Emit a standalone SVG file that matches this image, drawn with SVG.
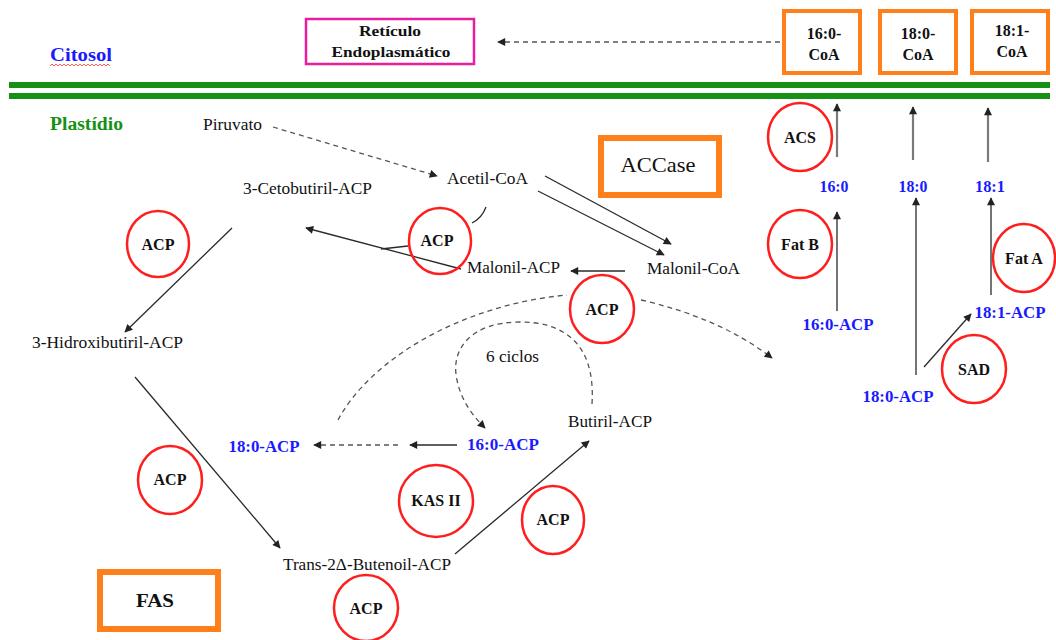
<svg xmlns="http://www.w3.org/2000/svg" width="1056" height="640" viewBox="0 0 1056 640">
<style>
text{font-family:"Liberation Serif","DejaVu Serif","Times New Roman",serif}
.reg{font-size:17px;fill:#111}
.bold{font-weight:bold;font-size:16px;fill:#111}
.blue{font-weight:bold;font-size:17px;fill:#1a1aff}
.enz{fill:#fff;stroke:#ff1e1e;stroke-width:2.5}
.obox{fill:#fff;stroke:#ff7f1a;stroke-width:4}
.obox2{fill:#fff;stroke:#ff7f1a;stroke-width:6}
.sol{fill:none;stroke:#2a2a2a;stroke-width:1.3}
.gray{fill:none;stroke:#7a7a7a;stroke-width:2.2}
.dash{fill:none;stroke:#555;stroke-width:1.3;stroke-dasharray:5 4}
</style>
<defs>
<marker id="ah" viewBox="0 0 10 10" refX="9" refY="5" markerWidth="10" markerHeight="8" orient="auto" markerUnits="userSpaceOnUse">
<path d="M0,0 L10,5 L0,10 z" fill="#222"/>
</marker>
</defs>
<rect width="1056" height="640" fill="#fff"/>

<g id="membrane">
<rect x="9" y="82" width="1041" height="6" fill="#169116"/>
<rect x="9" y="93" width="1041" height="6" fill="#169116"/>
</g>

<g id="compartments">
<text x="50" y="61" class="bold" style="font-size:18px;fill:#1a1aff" textLength="62" lengthAdjust="spacingAndGlyphs">Citosol</text>
<path d="M50,66 l2,-2 l2,2 l2,-2 l2,2 l2,-2 l2,2 l2,-2 l2,2 l2,-2 l2,2 l2,-2 l2,2 l2,-2 l2,2 l2,-2 l2,2 l2,-2 l2,2 l2,-2 l2,2 l2,-2 l2,2 l2,-2 l2,2 l2,-2 l2,2 l2,-2 l2,2 l2,-2 l2,2" fill="none" stroke="#ff3030" stroke-width="0.8"/>
<text x="50" y="130" class="bold" style="font-size:18px;fill:#169116" textLength="73" lengthAdjust="spacingAndGlyphs">Plastídio</text>
</g>

<g id="connectors">
<line x1="780" y1="42" x2="498" y2="42" class="dash" marker-end="url(#ah)"/>
<line x1="273" y1="127" x2="437" y2="176" class="dash" marker-end="url(#ah)"/>
<line x1="545" y1="176" x2="671" y2="244" class="sol" marker-end="url(#ah)"/>
<line x1="538" y1="191" x2="664" y2="255" class="sol" marker-end="url(#ah)"/>
<line x1="625" y1="271" x2="571" y2="271" class="sol" marker-end="url(#ah)"/>
<line x1="461" y1="269" x2="306" y2="228" class="sol" marker-end="url(#ah)"/>
<line x1="408" y1="246" x2="381" y2="249" class="sol"/>
<path d="M486,207 Q482,218 472,223" class="sol"/>
<line x1="232" y1="228" x2="125" y2="332" class="sol" marker-end="url(#ah)"/>
<line x1="135" y1="377" x2="280" y2="548" class="sol" marker-end="url(#ah)"/>
<line x1="455" y1="554" x2="589" y2="441" class="sol" marker-end="url(#ah)"/>
<line x1="457" y1="445" x2="410" y2="445" class="sol" marker-end="url(#ah)"/>
<line x1="398" y1="445" x2="314" y2="445" class="dash" marker-end="url(#ah)"/>
<path d="M338,420 C370,360 460,305 567,295" class="dash"/>
<path d="M641,300 Q720,318 772,358" class="dash" marker-end="url(#ah)"/>
<path d="M592,404 C596,340 560,322 520,322 C470,322 450,350 457,380 C461,400 472,415 485,428" class="dash" marker-end="url(#ah)"/>
<line x1="837" y1="311" x2="837" y2="212" class="sol" marker-end="url(#ah)"/>
<line x1="837" y1="157" x2="837" y2="104" class="gray" marker-end="url(#ah)"/>
<line x1="916" y1="375" x2="916" y2="198" class="sol" marker-end="url(#ah)"/>
<line x1="913" y1="160" x2="913" y2="107" class="gray" marker-end="url(#ah)"/>
<line x1="991" y1="295" x2="991" y2="198" class="sol" marker-end="url(#ah)"/>
<line x1="988" y1="162" x2="988" y2="108" class="gray" marker-end="url(#ah)"/>
<line x1="924" y1="367" x2="971" y2="314" class="sol" marker-end="url(#ah)"/>
</g>

<g id="re">
<rect x="306" y="19" width="168" height="45" fill="#fff" stroke="#e81ea0" stroke-width="2.5"/>
<text x="390" y="36" class="bold" style="font-size:15px" text-anchor="middle" textLength="62" lengthAdjust="spacingAndGlyphs">Retículo</text>
<text x="391" y="57" class="bold" style="font-size:15px" text-anchor="middle" textLength="119" lengthAdjust="spacingAndGlyphs">Endoplasmático</text>
</g>

<g id="coa160">
<rect x="784" y="11" width="76" height="62" class="obox"/>
<text x="824" y="39" class="bold" text-anchor="middle">16:0-</text>
<text x="824" y="60" class="bold" text-anchor="middle">CoA</text>
</g>
<g id="coa180">
<rect x="880" y="11" width="76" height="62" class="obox"/>
<text x="918" y="39" class="bold" text-anchor="middle">18:0-</text>
<text x="918" y="60" class="bold" text-anchor="middle">CoA</text>
</g>
<g id="coa181">
<rect x="972" y="11" width="76" height="62" class="obox"/>
<text x="1012" y="36" class="bold" text-anchor="middle">18:1-</text>
<text x="1012" y="57" class="bold" text-anchor="middle">CoA</text>
</g>

<g id="accase">
<rect x="601" y="138" width="118" height="57" class="obox2"/>
<text x="658" y="172" class="reg" style="font-size:21px" text-anchor="middle" textLength="75" lengthAdjust="spacingAndGlyphs">ACCase</text>
</g>
<g id="fas">
<rect x="100" y="572" width="118" height="57" class="obox2"/>
<text x="155" y="607" class="bold" style="font-size:19px" text-anchor="middle" textLength="38" lengthAdjust="spacingAndGlyphs">FAS</text>
</g>

<g id="piruvato"><text x="203" y="130" class="reg" textLength="59" lengthAdjust="spacingAndGlyphs">Piruvato</text></g>
<g id="acetilcoa"><text x="447" y="184" class="reg" textLength="81" lengthAdjust="spacingAndGlyphs">Acetil-CoA</text></g>
<g id="cetobutiril"><text x="243" y="194" class="reg" textLength="129" lengthAdjust="spacingAndGlyphs">3-Cetobutiril-ACP</text></g>
<g id="malonilacp"><text x="467" y="273" class="reg" textLength="93" lengthAdjust="spacingAndGlyphs">Malonil-ACP</text></g>
<g id="malonilcoa"><text x="647" y="274" class="reg" textLength="93" lengthAdjust="spacingAndGlyphs">Malonil-CoA</text></g>
<g id="hidroxibutiril"><text x="32" y="348" class="reg" textLength="151" lengthAdjust="spacingAndGlyphs">3-Hidroxibutiril-ACP</text></g>
<g id="ciclos"><text x="486" y="362" class="reg" textLength="53" lengthAdjust="spacingAndGlyphs">6 ciclos</text></g>
<g id="butiril"><text x="568" y="427" class="reg" textLength="84" lengthAdjust="spacingAndGlyphs">Butiril-ACP</text></g>
<g id="butenoil"><text x="283" y="570" class="reg" textLength="168" lengthAdjust="spacingAndGlyphs">Trans-2Δ-Butenoil-ACP</text></g>

<g id="acp180left"><text x="264" y="452" class="blue" text-anchor="middle" textLength="71" lengthAdjust="spacingAndGlyphs">18:0-ACP</text></g>
<g id="acp160mid"><text x="503" y="450" class="blue" text-anchor="middle" textLength="72" lengthAdjust="spacingAndGlyphs">16:0-ACP</text></g>
<g id="fa160"><text x="834" y="192" class="blue" text-anchor="middle" textLength="29" lengthAdjust="spacingAndGlyphs">16:0</text></g>
<g id="fa180"><text x="913" y="192" class="blue" text-anchor="middle" textLength="29" lengthAdjust="spacingAndGlyphs">18:0</text></g>
<g id="fa181"><text x="990" y="192" class="blue" text-anchor="middle" textLength="30" lengthAdjust="spacingAndGlyphs">18:1</text></g>
<g id="acp160right"><text x="838" y="330" class="blue" text-anchor="middle" textLength="71" lengthAdjust="spacingAndGlyphs">16:0-ACP</text></g>
<g id="acp181right"><text x="1010" y="318" class="blue" text-anchor="middle" textLength="71" lengthAdjust="spacingAndGlyphs">18:1-ACP</text></g>
<g id="acp180right"><text x="898" y="402" class="blue" text-anchor="middle" textLength="71" lengthAdjust="spacingAndGlyphs">18:0-ACP</text></g>

<g id="acs"><ellipse cx="800" cy="137" rx="32" ry="34" class="enz"/><text x="800" y="143" class="bold" text-anchor="middle">ACS</text></g>
<g id="fatb"><ellipse cx="800" cy="244" rx="32" ry="34" class="enz"/><text x="800" y="250" class="bold" text-anchor="middle">Fat B</text></g>
<g id="fata"><ellipse cx="1024" cy="258" rx="31" ry="34" class="enz"/><text x="1024" y="264" class="bold" text-anchor="middle">Fat A</text></g>
<g id="sad"><ellipse cx="974" cy="369" rx="32" ry="34" class="enz"/><text x="974" y="375" class="bold" text-anchor="middle">SAD</text></g>
<g id="acp1"><ellipse cx="158" cy="244" rx="31" ry="33" class="enz"/><text x="158" y="250" class="bold" text-anchor="middle">ACP</text></g>
<g id="acp2"><ellipse cx="440" cy="241" rx="31" ry="33" fill="none" stroke="#ff1e1e" stroke-width="2.5"/><text x="437" y="246" class="bold" text-anchor="middle">ACP</text></g>
<g id="acp3"><ellipse cx="602" cy="309" rx="32" ry="34" class="enz"/><text x="602" y="315" class="bold" text-anchor="middle">ACP</text></g>
<g id="acp4"><ellipse cx="170" cy="480" rx="32" ry="34" class="enz"/><text x="170" y="485" class="bold" text-anchor="middle">ACP</text></g>
<g id="kas2"><ellipse cx="436" cy="501" rx="37" ry="36" class="enz"/><text x="436" y="506" class="bold" text-anchor="middle">KAS II</text></g>
<g id="acp5"><ellipse cx="553" cy="520" rx="31" ry="34" class="enz"/><text x="553" y="525" class="bold" text-anchor="middle">ACP</text></g>
<g id="acp6"><ellipse cx="366" cy="608" rx="32" ry="33" class="enz"/><text x="366" y="614" class="bold" text-anchor="middle">ACP</text></g>
</svg>
